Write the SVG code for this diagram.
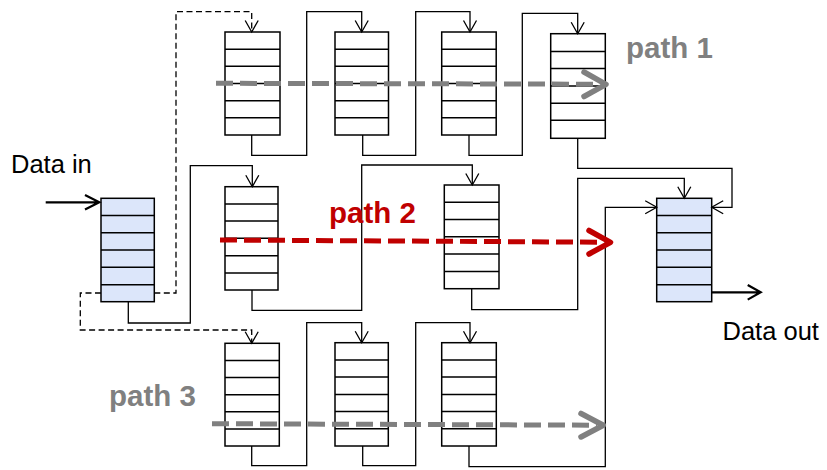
<svg xmlns="http://www.w3.org/2000/svg" width="827" height="470" viewBox="0 0 827 470">
<style>
.box{fill:#fff;stroke:#000;stroke-width:1.5}
.blue{fill:#dce6fa}
.row{fill:none;stroke:#000;stroke-width:1.5}
.conn{fill:none;stroke:#000;stroke-width:1.3;marker-end:url(#v)}
.dash{stroke-dasharray:6 3.5}
.thick{fill:none;stroke:#000;stroke-width:2.2}
.p{fill:none;stroke-width:5;stroke-dasharray:17 7}
.ph{fill:none;stroke-width:5.5;stroke-linecap:round;stroke-linejoin:round}
.gray{stroke:#808080}
.red{stroke:#c00000}
.lbl{font-family:"Liberation Sans",Arial,sans-serif;font-size:25.5px;fill:#000}
.pl{font-family:"Liberation Sans",Arial,sans-serif;font-size:29.5px;font-weight:bold}
</style>
<defs>
<marker id="v" markerUnits="userSpaceOnUse" viewBox="-13 -8 14 16" markerWidth="14" markerHeight="16" refX="0" refY="0" orient="auto" overflow="visible">
<path d="M-11.5,-6.5 L0,0 L-11.5,6.5" fill="none" stroke="#000" stroke-width="1.3"/>
</marker>
</defs>

<g id="in">
<rect class="box blue" x="101" y="198.3" width="53.3" height="103.4"/>
<path class="row" d="M101,215.5H154.3M101,232.7H154.3M101,250H154.3M101,267.3H154.3M101,284.7H154.3"/>
</g>
<g id="out">
<rect class="box blue" x="656.7" y="198.3" width="55" height="103.4"/>
<path class="row" d="M656.7,215.5H711.7M656.7,232.7H711.7M656.7,250H711.7M656.7,267.3H711.7M656.7,284.7H711.7"/>
</g>
<g id="t1">
<rect class="box" x="225" y="32" width="55" height="103"/>
<path class="row" d="M225,49.2H280M225,66.3H280M225,83.5H280M225,100.7H280M225,117.8H280"/>
</g>
<g id="t2">
<rect class="box" x="335" y="32" width="53.5" height="103"/>
<path class="row" d="M335,49.2H388.5M335,66.3H388.5M335,83.5H388.5M335,100.7H388.5M335,117.8H388.5"/>
</g>
<g id="t3">
<rect class="box" x="441.7" y="32" width="54.5" height="103"/>
<path class="row" d="M441.7,49.2H496.2M441.7,66.3H496.2M441.7,83.5H496.2M441.7,100.7H496.2M441.7,117.8H496.2"/>
</g>
<g id="t4">
<rect class="box" x="550.7" y="33.7" width="54.6" height="104.6"/>
<path class="row" d="M550.7,51.5H605.3M550.7,68.5H605.3M550.7,86H605.3M550.7,103.3H605.3M550.7,120.3H605.3"/>
</g>
<g id="m1">
<rect class="box" x="225" y="186.7" width="53" height="103.3"/>
<path class="row" d="M225,204H278M225,221H278M225,238.3H278M225,255.7H278M225,273H278"/>
</g>
<g id="m2">
<rect class="box" x="444.3" y="185" width="54.7" height="103.7"/>
<path class="row" d="M444.3,202.3H499M444.3,219.6H499M444.3,236.8H499M444.3,254.1H499M444.3,271.4H499"/>
</g>
<g id="b1">
<rect class="box" x="225" y="343.3" width="54.3" height="102.7"/>
<path class="row" d="M225,360.4H279.3M225,377.5H279.3M225,394.7H279.3M225,411.8H279.3M225,428.9H279.3"/>
</g>
<g id="b2">
<rect class="box" x="335" y="342.7" width="53.3" height="103.3"/>
<path class="row" d="M335,359.9H388.3M335,377.1H388.3M335,394.4H388.3M335,411.6H388.3M335,428.8H388.3"/>
</g>
<g id="b3">
<rect class="box" x="441.7" y="342.7" width="54.6" height="103.3"/>
<path class="row" d="M441.7,359.9H496.3M441.7,377.1H496.3M441.7,394.4H496.3M441.7,411.6H496.3M441.7,428.8H496.3"/>
</g>

<g id="connectors">
<path class="conn dash" d="M154.3,293H176V11.7H251.7V32"/>
<path class="conn dash" d="M101,293H80.3V330H251.7V343.3"/>
<path class="conn" d="M128.3,301.7V323H190.3V165.7H252.3V186.7"/>
<path class="conn" d="M251.7,135V155.3H306.7V11.7H361.7V32"/>
<path class="conn" d="M362.7,135V155.3H415.7V11.7H470V32"/>
<path class="conn" d="M469,135V155.3H522.3V13.3H577.7V33.7"/>
<path class="conn" d="M577.7,138.3V168.3H732V207.3H711.7"/>
<path class="conn" d="M252,290V310.3H361.7V165H472.3V185"/>
<path class="conn" d="M471.7,288.7V309.7H577.7V178.3H684.3V198.3"/>
<path class="conn" d="M251.7,446V465.7H306.7V322.7H361.7V342.7"/>
<path class="conn" d="M362.7,446V465.7H415.7V322.7H470V342.7"/>
<path class="conn" d="M469,446V466.7H605.3V207.3H656.7"/>
<path class="thick" d="M45.7,202.3H99M85,195L99.3,202.3L85,209.6"/>
<path class="thick" d="M711.7,292.3H760M747.7,285L760.7,292.3L747.7,299.6"/>
</g>

<g id="paths">
<path class="p gray" d="M216,83.3L600,84.2"/>
<path class="ph gray" d="M584,72L606,84.3L584,96.5"/>
<path class="p red" d="M220,240L604,242.2"/>
<path class="ph red" d="M589,230.5L610.5,242.3L589,254"/>
<path class="p gray" d="M212,423.7L597,425.2"/>
<path class="ph gray" d="M581,413.5L603.3,425.3L581,437"/>
</g>

<g id="labels">
<text class="lbl" x="11" y="173">Data in</text>
<text class="lbl" x="722.5" y="339.5">Data out</text>
<text class="pl" x="626" y="58" fill="#808080">path 1</text>
<text class="pl" x="329" y="222.5" fill="#c00000">path 2</text>
<text class="pl" x="109" y="406" fill="#808080">path 3</text>
</g>
</svg>
